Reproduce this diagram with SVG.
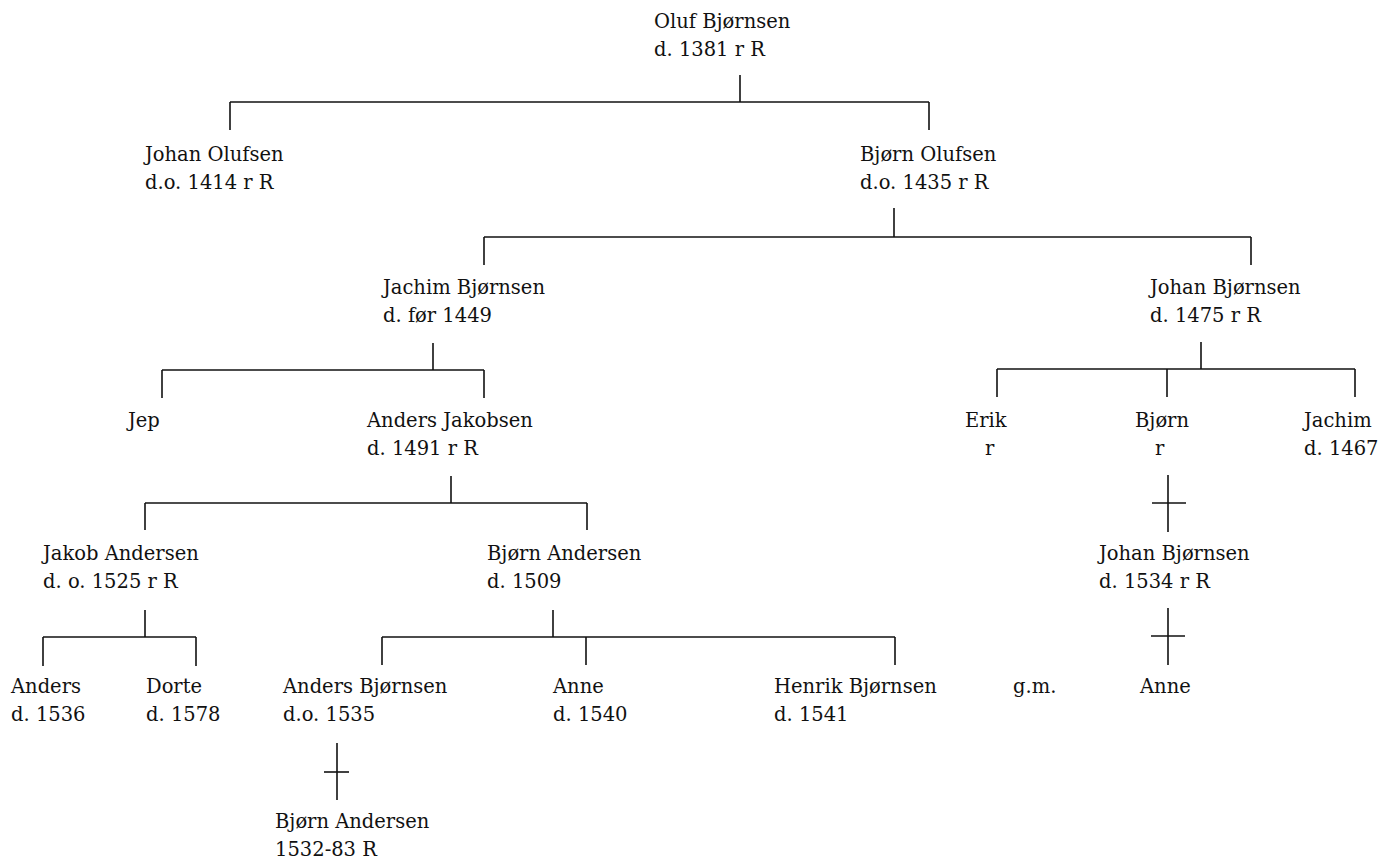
<svg xmlns="http://www.w3.org/2000/svg" width="1379" height="859" viewBox="0 0 1379 859">
<style>
text { font-family: "DejaVu Serif", "Liberation Serif", serif; font-size: 19.5px; fill: #111; }
.c line { stroke: #111; stroke-width: 1.6; fill: none; }
</style>
<rect width="1379" height="859" fill="#fff"/>
<g class="c" id="connectors">
<line x1="740" y1="75" x2="740" y2="102"/>
<line x1="230" y1="102" x2="929" y2="102"/>
<line x1="230" y1="102" x2="230" y2="130"/>
<line x1="929" y1="102" x2="929" y2="130"/>
<line x1="894" y1="208" x2="894" y2="237"/>
<line x1="484" y1="237" x2="1251" y2="237"/>
<line x1="484" y1="237" x2="484" y2="265"/>
<line x1="1251" y1="237" x2="1251" y2="265"/>
<line x1="433" y1="343" x2="433" y2="370"/>
<line x1="162" y1="370" x2="484" y2="370"/>
<line x1="162" y1="370" x2="162" y2="398"/>
<line x1="484" y1="370" x2="484" y2="398"/>
<line x1="1201" y1="342" x2="1201" y2="369"/>
<line x1="997" y1="369" x2="1355" y2="369"/>
<line x1="997" y1="369" x2="997" y2="397"/>
<line x1="1167" y1="369" x2="1167" y2="397"/>
<line x1="1355" y1="369" x2="1355" y2="397"/>
<line x1="451" y1="476" x2="451" y2="503"/>
<line x1="145" y1="503" x2="587" y2="503"/>
<line x1="145" y1="503" x2="145" y2="530"/>
<line x1="587" y1="503" x2="587" y2="530"/>
<line x1="145" y1="610" x2="145" y2="637"/>
<line x1="43" y1="637" x2="196" y2="637"/>
<line x1="43" y1="637" x2="43" y2="666"/>
<line x1="196" y1="637" x2="196" y2="666"/>
<line x1="553" y1="610" x2="553" y2="637"/>
<line x1="382" y1="637" x2="895" y2="637"/>
<line x1="382" y1="637" x2="382" y2="665"/>
<line x1="586" y1="637" x2="586" y2="665"/>
<line x1="895" y1="637" x2="895" y2="665"/>
<line x1="337" y1="743" x2="337" y2="800"/>
<line x1="324" y1="772" x2="349" y2="772"/>
<line x1="1168" y1="475" x2="1168" y2="532"/>
<line x1="1152" y1="503" x2="1186" y2="503"/>
<line x1="1168" y1="608" x2="1168" y2="665"/>
<line x1="1151" y1="636" x2="1185" y2="636"/>
</g>
<g id="oluf"><text x="654" y="28">Oluf Bjørnsen</text><text x="654" y="56">d. 1381 r R</text></g>
<g id="johan-olufsen"><text x="145" y="161">Johan Olufsen</text><text x="145" y="189">d.o. 1414 r R</text></g>
<g id="bjorn-olufsen"><text x="860" y="161">Bjørn Olufsen</text><text x="860" y="189">d.o. 1435 r R</text></g>
<g id="jachim-bjornsen"><text x="383" y="294">Jachim Bjørnsen</text><text x="383" y="322">d. før 1449</text></g>
<g id="johan-bjornsen-1475"><text x="1150" y="294">Johan Bjørnsen</text><text x="1150" y="322">d. 1475 r R</text></g>
<g id="jep"><text x="128" y="427">Jep</text></g>
<g id="anders-jakobsen"><text x="367" y="427">Anders Jakobsen</text><text x="367" y="455">d. 1491 r R</text></g>
<g id="erik"><text x="965" y="427">Erik</text><text x="985" y="455">r</text></g>
<g id="bjorn"><text x="1135" y="427">Bjørn</text><text x="1155" y="455">r</text></g>
<g id="jachim"><text x="1304" y="427">Jachim</text><text x="1304" y="455">d. 1467</text></g>
<g id="jakob-andersen"><text x="43" y="560">Jakob Andersen</text><text x="43" y="588">d. o. 1525 r R</text></g>
<g id="bjorn-andersen-1509"><text x="487" y="560">Bjørn Andersen</text><text x="487" y="588">d. 1509</text></g>
<g id="johan-bjornsen-1534"><text x="1099" y="560">Johan Bjørnsen</text><text x="1099" y="588">d. 1534 r R</text></g>
<g id="anders"><text x="11" y="693">Anders</text><text x="11" y="721">d. 1536</text></g>
<g id="dorte"><text x="146" y="693">Dorte</text><text x="146" y="721">d. 1578</text></g>
<g id="anders-bjornsen"><text x="283" y="693">Anders Bjørnsen</text><text x="283" y="721">d.o. 1535</text></g>
<g id="anne-1540"><text x="553" y="693">Anne</text><text x="553" y="721">d. 1540</text></g>
<g id="henrik-bjornsen"><text x="774" y="693">Henrik Bjørnsen</text><text x="774" y="721">d. 1541</text></g>
<g id="gm"><text x="1013" y="693">g.m.</text></g>
<g id="anne"><text x="1140" y="693">Anne</text></g>
<g id="bjorn-andersen-1532"><text x="275" y="828">Bjørn Andersen</text><text x="275" y="856">1532-83 R</text></g>
</svg>
